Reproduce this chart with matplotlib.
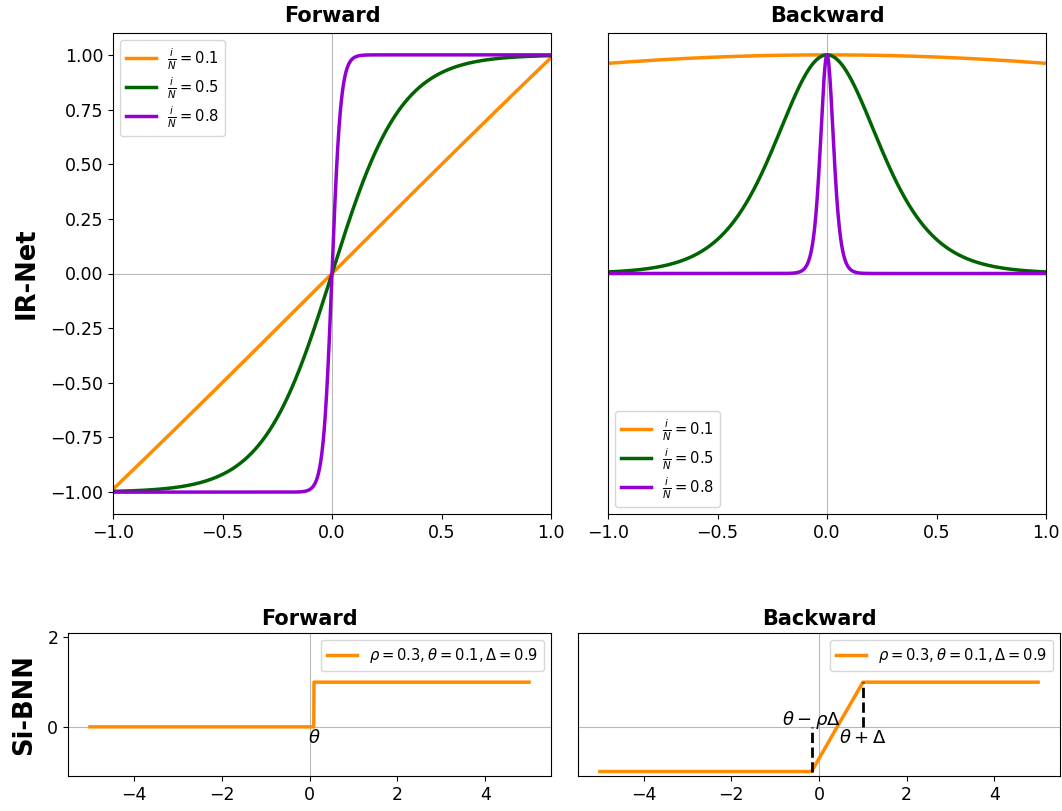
import numpy as np
import matplotlib.pyplot as plt

# IR-Net: training progress ratios i/N and their tanh temperatures
ratios = [0.1, 0.5, 0.8]
colors = ['darkorange', 'darkgreen', 'darkviolet']
t_min, t_max = 0.1, 100.0

# Si-BNN parameters
rho, theta, delta = 0.3, 0.1, 0.9


def ir_forward(x, r):
    t = t_min * (t_max / t_min) ** r
    k = max(1 / t, 1)
    return k * np.tanh(t * x)


def ir_backward(x, r):
    # gradient scaled so that its peak is 1
    t = t_min * (t_max / t_min) ** r
    return 1 - np.tanh(t * x) ** 2


def si_forward(x):
    return np.where(x >= theta, 1.0, 0.0)


def si_backward(x):
    lo, hi = theta - rho * delta, theta + delta
    return np.clip(-1 + 2 * (x - lo) / (hi - lo), -1, 1)


x = np.linspace(-1, 1, 2001)
xs = np.linspace(-5, 5, 4001)

fig = plt.figure(figsize=(10.62, 8.11), dpi=100)
W, H = 1062, 811


def box(l, r, t, b):
    return [l / W, 1 - b / H, (r - l) / W, (b - t) / H]


ax1 = fig.add_axes(box(113, 551, 33, 514))
ax2 = fig.add_axes(box(608, 1046, 33, 514), sharey=ax1)
ax3 = fig.add_axes(box(68, 551, 633, 776))
ax4 = fig.add_axes(box(578, 1060, 633, 776), sharey=ax3)

for ax in (ax1, ax2, ax3, ax4):
    ax.axhline(0, color='#b8b8b8', lw=0.8, zorder=0)
    ax.axvline(0, color='#b8b8b8', lw=0.8, zorder=0)
    ax.tick_params(labelsize=12.5)

for r, c in zip(ratios, colors):
    lab = r'$\frac{i}{N}=%s$' % r
    ax1.plot(x, ir_forward(x, r), color=c, lw=2.5, label=lab)
    ax2.plot(x, ir_backward(x, r), color=c, lw=2.5, label=lab)

ax1.set_xlim(-1, 1)
ax2.set_xlim(-1, 1)
ax1.set_ylim(-1.1, 1.1)
ax1.set_xticks([-1, -0.5, 0, 0.5, 1])
ax2.set_xticks([-1, -0.5, 0, 0.5, 1])
ax1.set_yticks(np.arange(-1, 1.01, 0.25))
plt.setp(ax2.get_yticklabels(), visible=False)
ax2.tick_params(axis='y', length=0)
ax1.legend(loc='upper left', fontsize=10.6, labelspacing=0.25)
ax2.legend(loc='lower left', fontsize=10.6, labelspacing=0.25)
ax1.set_title('Forward', fontsize=15, fontweight='bold', pad=8)
ax2.set_title('Backward', fontsize=15, fontweight='bold', pad=8)
ax1.set_ylabel('IR-Net', fontsize=18.5, fontweight='bold', labelpad=8)

lab = r'$\rho=%s, \theta=%s, \Delta=%s$' % (rho, theta, delta)
ax3.plot(xs, si_forward(xs), color='darkorange', lw=2.5, label=lab)
ax4.plot(xs, si_backward(xs), color='darkorange', lw=2.5, label=lab)
ax3.set_ylim(-1.1, 2.1)
ax3.set_yticks([0, 2])
plt.setp(ax4.get_yticklabels(), visible=False)
ax4.tick_params(axis='y', length=0)
ax3.text(theta, -0.26, r'$\theta$', fontsize=13, ha='center', va='center')
lo, hi = theta - rho * delta, theta + delta
ax4.vlines(lo, -1, 0, colors='k', linestyles='--', lw=2)
ax4.vlines(hi, 0, 1, colors='k', linestyles='--', lw=2)
ax4.text(lo, 0.15, r'$\theta-\rho\Delta$', fontsize=13, ha='center', va='center')
ax4.text(hi, -0.26, r'$\theta+\Delta$', fontsize=13, ha='center', va='center')
ax3.legend(loc='upper right', fontsize=10.6)
ax4.legend(loc='upper right', fontsize=10.6)
ax3.set_title('Forward', fontsize=15, fontweight='bold')
ax4.set_title('Backward', fontsize=15, fontweight='bold')
ax3.set_ylabel('Si-BNN', fontsize=18.5, fontweight='bold', labelpad=7)

fig.savefig('out.png', dpi=100)
